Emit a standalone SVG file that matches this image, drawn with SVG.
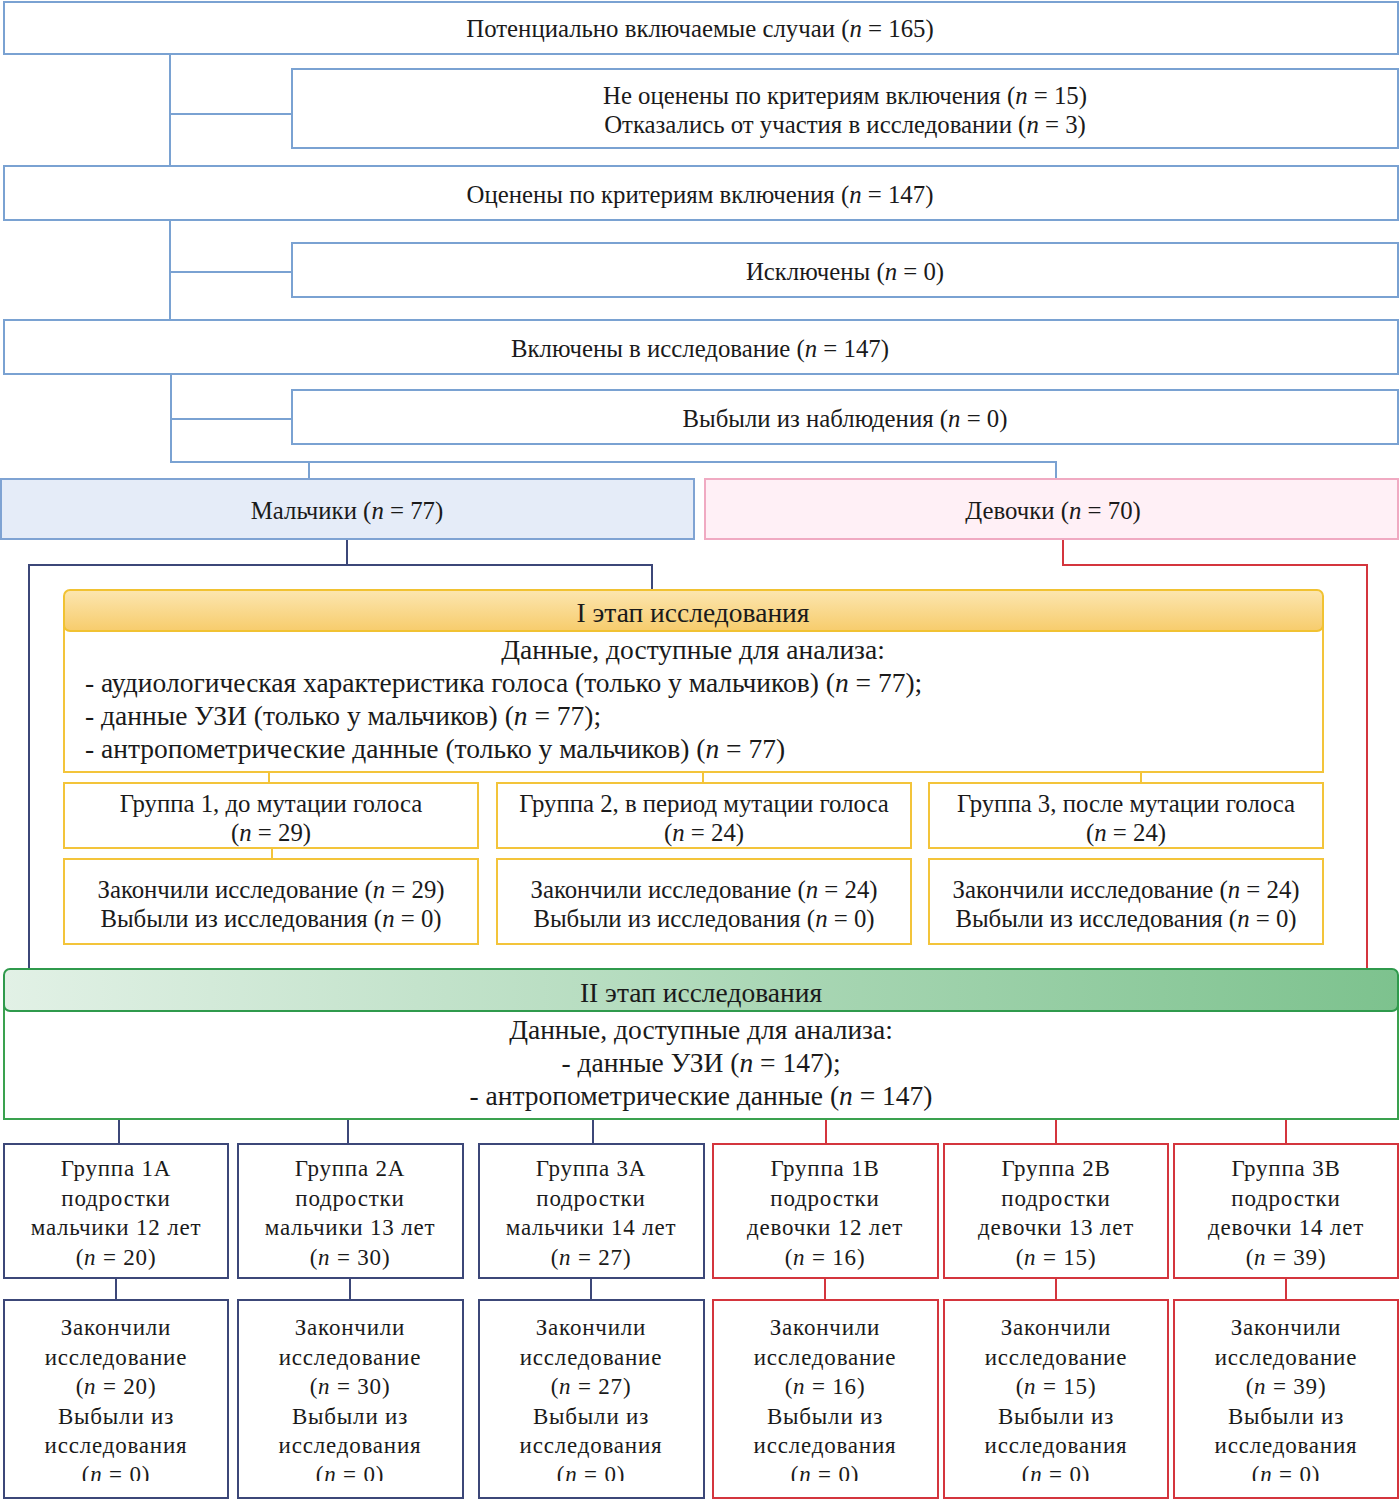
<svg xmlns="http://www.w3.org/2000/svg" width="1400" height="1500" viewBox="0 0 1400 1500">
<style>
text{font-family:"Liberation Serif","Times New Roman",serif;fill:#1a1a1a;dominant-baseline:central}
.c{text-anchor:middle}
.t22{font-size:24.8px}
.t25{font-size:27.5px}
.i{font-style:italic}
.blue{fill:#fff;stroke:#7aa2d2;stroke-width:2}
.yel{fill:#fff;stroke:#f3c43a;stroke-width:2}
.navyb{fill:#fff;stroke:#3c4778;stroke-width:2}
.redb{fill:#fff;stroke:#d4353d;stroke-width:2}
.lb{stroke:#7aa2d2;stroke-width:2;fill:none}
.ln{stroke:#3c4778;stroke-width:2;fill:none}
.lr{stroke:#d4353d;stroke-width:2;fill:none}
.ly{stroke:#f3c43a;stroke-width:2;fill:none}
.bot{font-size:23px;letter-spacing:0.8px}
</style>
<defs>
<linearGradient id="gy" x1="0" y1="0" x2="0" y2="1"><stop offset="0" stop-color="#fce6b0"/><stop offset="1" stop-color="#f7cc6c"/></linearGradient>
<linearGradient id="gg" x1="0" y1="0" x2="1" y2="0"><stop offset="0" stop-color="#e2f1e6"/><stop offset="1" stop-color="#7dc28e"/></linearGradient>
<clipPath id="clipb"><rect x="0" y="1290" width="1400" height="191"/></clipPath>
</defs>
<g id="connectors">
<path class="lb" d="M170 54V166M170 114H292M170 220V320M170 272H292M171 374V462H1056V479M171 419H292M309 462V479"/>
<path class="ln" d="M347 539V565M29 969V565H652V590"/>
<path class="lr" d="M1063 539V565H1367V969"/>
<path class="ly" d="M269 772V783M703 772V783M1141 772V783M272 848V859"/>
<path class="ln" d="M119 1119V1144M348 1119V1144M593 1119V1144M116 1278V1300M350 1278V1300M591 1278V1300"/>
<path class="lr" d="M826 1119V1144M1056 1119V1144M1286 1119V1144M825 1278V1300M1056 1278V1300M1286 1278V1300"/>
</g>
<g id="n1"><rect class="blue" x="4" y="2" width="1394" height="52"/><text class="c t22" x="700" y="28">Потенциально включаемые случаи (<tspan class="i">n</tspan> = 165)</text></g>
<g id="n2"><rect class="blue" x="292" y="69" width="1106" height="79"/><text class="c t22" x="845" y="95">Не оценены по критериям включения (<tspan class="i">n</tspan> = 15)</text><text class="c t22" x="845" y="124">Отказались от участия в исследовании (<tspan class="i">n</tspan> = 3)</text></g>
<g id="n3"><rect class="blue" x="4" y="166" width="1394" height="54"/><text class="c t22" x="700" y="194">Оценены по критериям включения (<tspan class="i">n</tspan> = 147)</text></g>
<g id="n4"><rect class="blue" x="292" y="243" width="1106" height="54"/><text class="c t22" x="845" y="271">Исключены (<tspan class="i">n</tspan> = 0)</text></g>
<g id="n5"><rect class="blue" x="4" y="320" width="1394" height="54"/><text class="c t22" x="700" y="348">Включены в исследование (<tspan class="i">n</tspan> = 147)</text></g>
<g id="n6"><rect class="blue" x="292" y="390" width="1106" height="54"/><text class="c t22" x="845" y="418">Выбыли из наблюдения (<tspan class="i">n</tspan> = 0)</text></g>
<g id="boys"><rect x="1" y="479" width="693" height="60" fill="#e5ecf8" stroke="#7fa3d3" stroke-width="2"/><text class="c t22" x="347" y="510">Мальчики (<tspan class="i">n</tspan> = 77)</text></g>
<g id="girls"><rect x="705" y="479" width="693" height="60" fill="#fff0f6" stroke="#f0aac2" stroke-width="2"/><text class="c t22" x="1053" y="510">Девочки (<tspan class="i">n</tspan> = 70)</text></g>
<g id="stage1">
<rect x="64" y="610" width="1259" height="162" class="yel"/>
<rect x="64" y="590" width="1259" height="41" rx="6" fill="url(#gy)" stroke="#f1c232" stroke-width="2"/>
<text class="c t25" x="693" y="612">I этап исследования</text>
<text class="c t25" x="693" y="649">Данные, доступные для анализа:</text>
<text class="t25" x="85" y="682">- аудиологическая характеристика голоса (только у мальчиков) (<tspan class="i">n</tspan> = 77);</text>
<text class="t25" x="85" y="715">- данные УЗИ (только у мальчиков) (<tspan class="i">n</tspan> = 77);</text>
<text class="t25" x="85" y="748">- антропометрические данные (только у мальчиков) (<tspan class="i">n</tspan> = 77)</text>
</g>
<g id="g1"><rect class="yel" x="64" y="783" width="414" height="65"/><text class="c t22" x="271" y="803">Группа 1, до мутации голоса</text><text class="c t22" x="271" y="832">(<tspan class="i">n</tspan> = 29)</text></g>
<g id="g2"><rect class="yel" x="497" y="783" width="414" height="65"/><text class="c t22" x="704" y="803">Группа 2, в период мутации голоса</text><text class="c t22" x="704" y="832">(<tspan class="i">n</tspan> = 24)</text></g>
<g id="g3"><rect class="yel" x="929" y="783" width="394" height="65"/><text class="c t22" x="1126" y="803">Группа 3, после мутации голоса</text><text class="c t22" x="1126" y="832">(<tspan class="i">n</tspan> = 24)</text></g>
<g id="g1e"><rect class="yel" x="64" y="859" width="414" height="85"/><text class="c t22" x="271" y="889">Закончили исследование (<tspan class="i">n</tspan> = 29)</text><text class="c t22" x="271" y="918">Выбыли из исследования (<tspan class="i">n</tspan> = 0)</text></g>
<g id="g2e"><rect class="yel" x="497" y="859" width="414" height="85"/><text class="c t22" x="704" y="889">Закончили исследование (<tspan class="i">n</tspan> = 24)</text><text class="c t22" x="704" y="918">Выбыли из исследования (<tspan class="i">n</tspan> = 0)</text></g>
<g id="g3e"><rect class="yel" x="929" y="859" width="394" height="85"/><text class="c t22" x="1126" y="889">Закончили исследование (<tspan class="i">n</tspan> = 24)</text><text class="c t22" x="1126" y="918">Выбыли из исследования (<tspan class="i">n</tspan> = 0)</text></g>
<g id="stage2">
<rect x="4" y="990" width="1394" height="129" fill="#fff" stroke="#3aa14f" stroke-width="2"/>
<rect x="4" y="969" width="1394" height="42" rx="6" fill="url(#gg)" stroke="#2f9a4c" stroke-width="2"/>
<text class="c t25" x="701" y="992">II этап исследования</text>
<text class="c t25" x="701" y="1029">Данные, доступные для анализа:</text>
<text class="c t25" x="701" y="1062">- данные УЗИ (<tspan class="i">n</tspan> = 147);</text>
<text class="c t25" x="701" y="1095">- антропометрические данные (<tspan class="i">n</tspan> = 147)</text>
</g>
<g id="b1"><rect class="navyb" x="4" y="1144" width="224" height="134"/><text class="c bot" x="116" y="1168">Группа 1А</text><text class="c bot" x="116" y="1198">подростки</text><text class="c bot" x="116" y="1227">мальчики 12 лет</text><text class="c bot" x="116" y="1257">(<tspan class="i">n</tspan> = 20)</text></g>
<g id="b2"><rect class="navyb" x="238" y="1144" width="225" height="134"/><text class="c bot" x="350" y="1168">Группа 2А</text><text class="c bot" x="350" y="1198">подростки</text><text class="c bot" x="350" y="1227">мальчики 13 лет</text><text class="c bot" x="350" y="1257">(<tspan class="i">n</tspan> = 30)</text></g>
<g id="b3"><rect class="navyb" x="479" y="1144" width="225" height="134"/><text class="c bot" x="591" y="1168">Группа 3А</text><text class="c bot" x="591" y="1198">подростки</text><text class="c bot" x="591" y="1227">мальчики 14 лет</text><text class="c bot" x="591" y="1257">(<tspan class="i">n</tspan> = 27)</text></g>
<g id="b4"><rect class="redb" x="713" y="1144" width="225" height="134"/><text class="c bot" x="825" y="1168">Группа 1В</text><text class="c bot" x="825" y="1198">подростки</text><text class="c bot" x="825" y="1227">девочки 12 лет</text><text class="c bot" x="825" y="1257">(<tspan class="i">n</tspan> = 16)</text></g>
<g id="b5"><rect class="redb" x="944" y="1144" width="224" height="134"/><text class="c bot" x="1056" y="1168">Группа 2В</text><text class="c bot" x="1056" y="1198">подростки</text><text class="c bot" x="1056" y="1227">девочки 13 лет</text><text class="c bot" x="1056" y="1257">(<tspan class="i">n</tspan> = 15)</text></g>
<g id="b6"><rect class="redb" x="1174" y="1144" width="224" height="134"/><text class="c bot" x="1286" y="1168">Группа 3В</text><text class="c bot" x="1286" y="1198">подростки</text><text class="c bot" x="1286" y="1227">девочки 14 лет</text><text class="c bot" x="1286" y="1257">(<tspan class="i">n</tspan> = 39)</text></g>
<g id="e1"><rect class="navyb" x="4" y="1300" width="224" height="198"/><g clip-path="url(#clipb)"><text class="c bot" x="116" y="1327">Закончили</text><text class="c bot" x="116" y="1357">исследование</text><text class="c bot" x="116" y="1386">(<tspan class="i">n</tspan> = 20)</text><text class="c bot" x="116" y="1416">Выбыли из</text><text class="c bot" x="116" y="1445">исследования</text><text class="c bot" x="116" y="1474">(<tspan class="i">n</tspan> = 0)</text></g></g>
<g id="e2"><rect class="navyb" x="238" y="1300" width="225" height="198"/><g clip-path="url(#clipb)"><text class="c bot" x="350" y="1327">Закончили</text><text class="c bot" x="350" y="1357">исследование</text><text class="c bot" x="350" y="1386">(<tspan class="i">n</tspan> = 30)</text><text class="c bot" x="350" y="1416">Выбыли из</text><text class="c bot" x="350" y="1445">исследования</text><text class="c bot" x="350" y="1474">(<tspan class="i">n</tspan> = 0)</text></g></g>
<g id="e3"><rect class="navyb" x="479" y="1300" width="225" height="198"/><g clip-path="url(#clipb)"><text class="c bot" x="591" y="1327">Закончили</text><text class="c bot" x="591" y="1357">исследование</text><text class="c bot" x="591" y="1386">(<tspan class="i">n</tspan> = 27)</text><text class="c bot" x="591" y="1416">Выбыли из</text><text class="c bot" x="591" y="1445">исследования</text><text class="c bot" x="591" y="1474">(<tspan class="i">n</tspan> = 0)</text></g></g>
<g id="e4"><rect class="redb" x="713" y="1300" width="225" height="198"/><g clip-path="url(#clipb)"><text class="c bot" x="825" y="1327">Закончили</text><text class="c bot" x="825" y="1357">исследование</text><text class="c bot" x="825" y="1386">(<tspan class="i">n</tspan> = 16)</text><text class="c bot" x="825" y="1416">Выбыли из</text><text class="c bot" x="825" y="1445">исследования</text><text class="c bot" x="825" y="1474">(<tspan class="i">n</tspan> = 0)</text></g></g>
<g id="e5"><rect class="redb" x="944" y="1300" width="224" height="198"/><g clip-path="url(#clipb)"><text class="c bot" x="1056" y="1327">Закончили</text><text class="c bot" x="1056" y="1357">исследование</text><text class="c bot" x="1056" y="1386">(<tspan class="i">n</tspan> = 15)</text><text class="c bot" x="1056" y="1416">Выбыли из</text><text class="c bot" x="1056" y="1445">исследования</text><text class="c bot" x="1056" y="1474">(<tspan class="i">n</tspan> = 0)</text></g></g>
<g id="e6"><rect class="redb" x="1174" y="1300" width="224" height="198"/><g clip-path="url(#clipb)"><text class="c bot" x="1286" y="1327">Закончили</text><text class="c bot" x="1286" y="1357">исследование</text><text class="c bot" x="1286" y="1386">(<tspan class="i">n</tspan> = 39)</text><text class="c bot" x="1286" y="1416">Выбыли из</text><text class="c bot" x="1286" y="1445">исследования</text><text class="c bot" x="1286" y="1474">(<tspan class="i">n</tspan> = 0)</text></g></g>
</svg>
